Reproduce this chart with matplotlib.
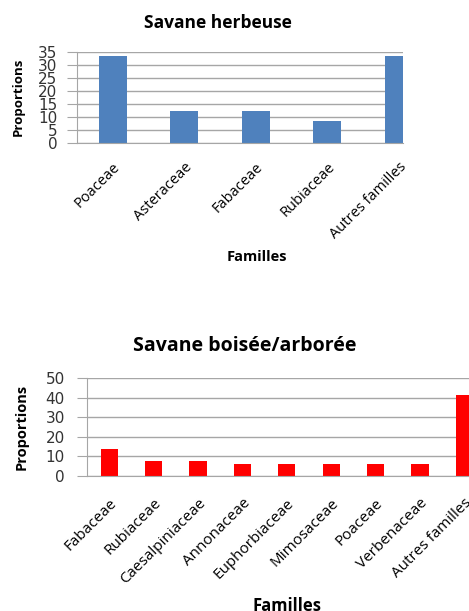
import matplotlib
matplotlib.use("Agg")
import matplotlib.pyplot as plt

plt.rcParams.update({"font.family": ["Open Sans", "DejaVu Sans"], "font.size": 10})

W, H = 469, 611

# data: proportions (%) by family
herb_fam = ["Poaceae", "Asteraceae", "Fabaceae", "Rubiaceae", "Autres familles"]
herb_val = [33.3, 12.5, 12.5, 8.3, 33.3]

bois_fam = ["Fabaceae", "Rubiaceae", "Caesalpiniaceae", "Annonaceae", "Euphorbiaceae",
            "Mimosaceae", "Poaceae", "Verbenaceae", "Autres familles"]
bois_val = [13.9, 7.7, 7.7, 6.1, 6.1, 6.1, 6.1, 6.1, 41.1]

BLUE = "#4f81bd"
RED = "#ff0000"
GRID = "#a6a6a6"


def px(x0, y0, x1, y1):
    # pixel box (top-left origin) -> figure fraction rect
    return [x0 / W, 1 - y1 / H, (x1 - x0) / W, (y1 - y0) / H]


def style(ax, ymax, step, xsize, xpad, ypad):
    ax.set_ylim(0, ymax)
    ax.set_yticks(range(0, ymax + 1, step))
    ax.yaxis.grid(True, color=GRID, lw=1)
    ax.set_axisbelow(True)
    for s in ("top", "right"):
        ax.spines[s].set_visible(False)
    for s in ("left", "bottom"):
        ax.spines[s].set_color(GRID)
    ax.tick_params(axis="y", length=7, color=GRID, labelsize=11, pad=ypad,
                   labelcolor="#333333")
    for t in ax.get_yticklabels():
        t.set_family("DejaVu Sans")
    ax.tick_params(axis="x", length=0, labelsize=xsize, pad=xpad)


fig = plt.figure(figsize=(W / 100, H / 100), dpi=100)

# ---- top: savane herbeuse
ax1 = fig.add_axes(px(77, 52, 403, 143))
ax1.bar(range(len(herb_fam)), herb_val, width=0.39, color=BLUE)
ax1.set_xlim(-0.5, -0.5 + 326 / 71.5)
ax1.set_xticks(range(len(herb_fam)))
ax1.set_xticklabels(herb_fam, rotation=45, ha="right", rotation_mode="anchor")
style(ax1, 35, 5, 10.5, 12, 7)
fig.text(218 / W, 1 - 23 / H, "Savane herbeuse", ha="center", va="center",
         fontsize=12.5, fontweight="bold")
fig.text(18 / W, 1 - 97 / H, "Proportions", rotation=90, ha="center", va="center",
         fontsize=9.5, fontweight="bold")
fig.text(257 / W, 1 - 257 / H, "Familles", ha="center", va="center",
         fontsize=10.5, fontweight="bold")

# ---- bottom: savane boisée/arborée
ax2 = fig.add_axes(px(87, 378, 469, 476))
ax2.bar(range(len(bois_fam)), bois_val, width=0.39, color=RED)
ax2.set_xlim(-0.5, -0.5 + 382 / 44.4)
ax2.set_xticks(range(len(bois_fam)))
ax2.set_xticklabels(bois_fam, rotation=45, ha="right", rotation_mode="anchor")
style(ax2, 50, 10, 11, 14, 9)
fig.text(245 / W, 1 - 346 / H, "Savane boisée/arborée", ha="center", va="center",
         fontsize=14, fontweight="bold")
fig.text(22 / W, 1 - 427 / H, "Proportions", rotation=90, ha="center", va="center",
         fontsize=10.5, fontweight="bold")
fig.text(287 / W, 1 - 606 / H, "Familles", ha="center", va="center",
         fontsize=12, fontweight="bold")

fig.savefig("out.png", dpi=100)
